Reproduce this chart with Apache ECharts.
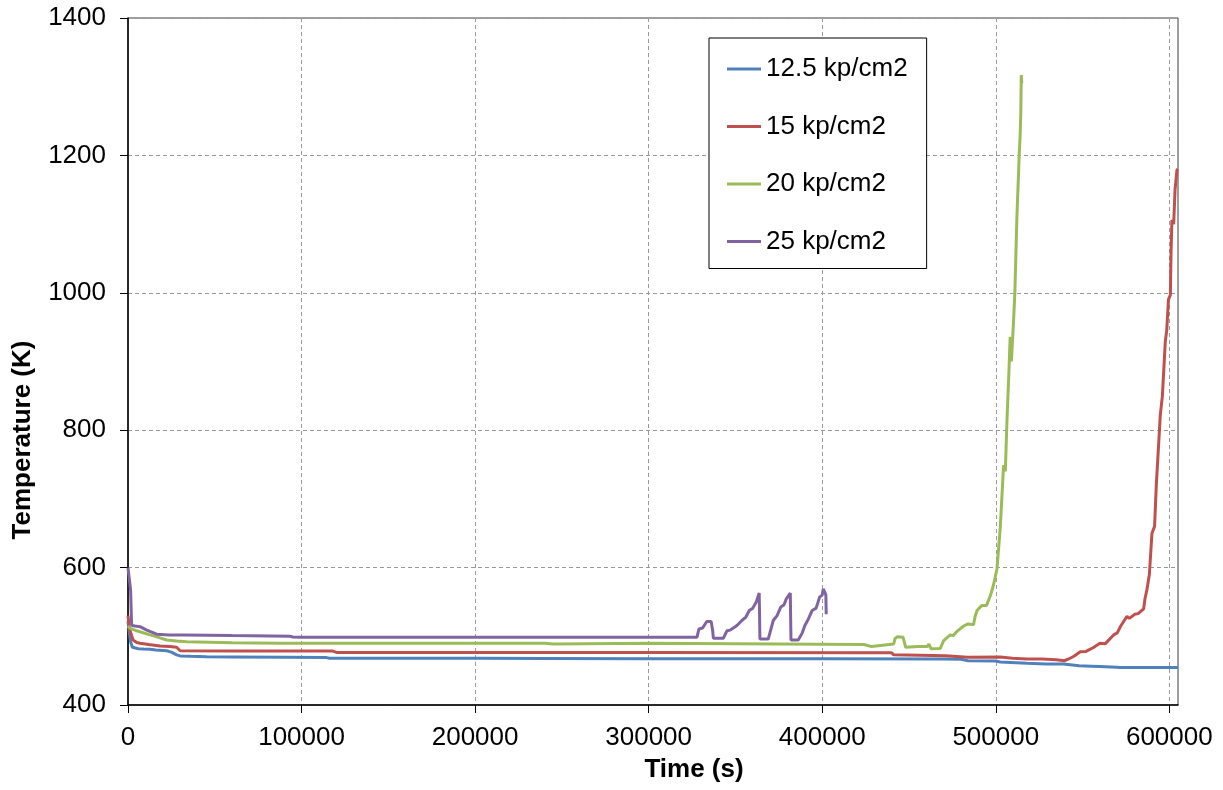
<!DOCTYPE html>
<html>
<head>
<meta charset="utf-8">
<script src="https://cdn.jsdelivr.net/npm/echarts@6/dist/echarts.min.js"></script>
<style>
html,body{margin:0;padding:0;background:#fff;}
#chart{width:1223px;height:790px;}
</style>
</head>
<body>
<div id="chart"></div>
<script>
// ---- Data (time in s, temperature in K) ----
const seriesNames = ['12.5 kp/cm2', '15 kp/cm2', '20 kp/cm2', '25 kp/cm2'];
const xTicks = [0, 100000, 200000, 300000, 400000, 500000, 600000];
const yTicks = [400, 600, 800, 1000, 1200, 1400];

const blueT = [0, 800, 1500, 2500, 3500, 6000, 9000, 12700, 16000, 20000, 22300, 25000, 28000, 30000, 36000, 45200, 60000, 90000, 114400, 116000, 200000, 240000, 300000, 343000, 344000, 345000, 400000, 470000, 480000, 484000, 500000, 502600, 518000, 528900, 539000, 548100, 555000, 560000, 569800, 571600, 590000, 605000];
const blueV = [522, 505, 492, 484, 482.5, 482, 481.5, 481, 480, 479.5, 479, 477, 473, 471.5, 471, 470.3, 470, 469.5, 469, 468, 468, 467.8, 467.5, 467.3, 465, 467.3, 467.2, 467, 466.5, 464.5, 464, 462.6, 460.7, 459.5, 459.7, 457, 456.5, 456, 455, 454.6, 454.6, 454.6];

const redT = [0, 800, 1700, 2900, 5000, 6900, 12000, 18400, 24000, 28000, 30000, 60000, 118000, 120200, 200000, 300000, 440000, 441200, 470900, 483900, 502600, 509600, 518000, 526700, 535000, 539500, 542000, 545000, 548700, 552000, 556300, 560000, 563000, 567900, 570000, 572000, 575600, 577000, 580000, 582000, 585200, 586000, 587100, 588500, 590000, 591500, 592500, 594800, 596000, 597700, 598500, 599500, 600600, 601000, 601500, 602500, 603300, 604400, 605000];
const redV = [530, 512, 504, 494.6, 491, 490, 488, 486, 485, 484, 479, 478.5, 478.5, 476.5, 476.5, 476.5, 476, 473, 471.7, 469.5, 470, 468, 467, 466.8, 466, 464.4, 467, 471, 477.6, 478, 483.7, 490, 489, 502, 505, 515, 529, 526, 532, 533, 540, 555, 568, 590, 650, 660, 720, 822, 850, 930, 945, 990, 997, 1060, 1106, 1100, 1150, 1179, 1180];

const greenT = [0, 1000, 2000, 5000, 12700, 18000, 22300, 28000, 33800, 60000, 87600, 90000, 240000, 245000, 300000, 424100, 428400, 441200, 442000, 443400, 446600, 447500, 448100, 455000, 460500, 461500, 462600, 468000, 470000, 473800, 475400, 478000, 481500, 484000, 487200, 488200, 489300, 492000, 494700, 494900, 497000, 498700, 500700, 502600, 504500, 505500, 506400, 507500, 508300, 509000, 510300, 511000, 512200, 513500, 514100, 514400, 514700, 515000];
const greenV = [515, 512, 510, 508, 502, 498, 494.6, 493, 492, 490.5, 490, 489.8, 489.8, 488.8, 489.8, 488, 485, 488.8, 497, 499.5, 498.5, 500, 484, 485, 485, 488.8, 482, 482.4, 493.7, 502, 501, 508, 515, 518, 517, 530, 538, 545, 545, 547, 560, 575, 598, 659, 749, 740, 810, 880, 936, 900, 961, 1000, 1112, 1200, 1233, 1260, 1317, 1305];

const purpleT = [0, 750, 1500, 2100, 4000, 6900, 10800, 16500, 24000, 31900, 60000, 93400, 95000, 99100, 200000, 327800, 329000, 331000, 333500, 336000, 336800, 337300, 343000, 345100, 347000, 349400, 351000, 353700, 356000, 358000, 360000, 362000, 363700, 364100, 368900, 371800, 374000, 376100, 378000, 379300, 381600, 382000, 386200, 388500, 390000, 392000, 394200, 396500, 398500, 400000, 400600, 401500, 402100, 402300];
const purpleV = [600, 598, 567, 516, 515, 514, 509, 503, 502, 502, 501, 500, 499, 498.5, 498.5, 498.5, 510.7, 512, 521.5, 521.5, 510, 497, 497, 508, 509, 513, 516, 523, 528, 537.6, 541, 550, 563, 496, 496, 523, 530, 542.4, 546, 554.6, 563, 494.6, 494.6, 505, 515.6, 525, 537.6, 541, 557, 560, 569, 564, 560, 532];

const colors = ['#4F81BD', '#C0504D', '#9BBB59', '#8064A2'];

function pairs(t, v) { return t.map((x, i) => [x, v[i]]); }
const allData = [pairs(blueT, blueV), pairs(redT, redV), pairs(greenT, greenV), pairs(purpleT, purpleV)];

const FONT = "'Liberation Sans', Arial, sans-serif";
const chart = echarts.init(document.getElementById('chart'), null, {renderer: 'canvas'});
chart.setOption({
  animation: false,
  backgroundColor: '#ffffff',
  color: colors,
  grid: {left: 128, right: 45, top: 18, bottom: 85, show: true, borderColor: '#404040', borderWidth: 1, backgroundColor: 'transparent'},
  legend: {
    orient: 'vertical',
    left: 709, top: 38,
    padding: [18, 19, 14, 18],
    itemGap: 31.5,
    itemWidth: 34,
    itemHeight: 3,
    itemTextGap: 5,
    icon: 'rect',
    backgroundColor: '#ffffff',
    borderColor: '#000000',
    borderWidth: 1,
    borderRadius: 0,
    textStyle: {fontSize: 26, fontFamily: FONT, color: '#000', lineHeight: 26},
    data: seriesNames
  },
  xAxis: {
    type: 'value', min: 0, max: 605000, interval: 100000,
    name: 'Time (s)', nameLocation: 'middle', nameGap: 52,
    nameTextStyle: {fontSize: 26, fontWeight: 'bold', fontFamily: FONT, color: '#000', padding: [0, 0, 0, 82]},
    axisLine: {show: true, onZero: false, lineStyle: {color: '#000', width: 1.5}},
    axisTick: {show: true, inside: false, length: 8, lineStyle: {color: '#000'}},
    axisLabel: {fontSize: 26, fontFamily: FONT, color: '#000', margin: 20, showMaxLabel: false,
      formatter: v => xTicks.indexOf(v) >= 0 ? String(v) : ''},
    splitLine: {show: true, lineStyle: {color: '#9a9a9a', type: [4, 3], width: 1}}
  },
  yAxis: {
    type: 'value', min: 400, max: 1400, interval: 200,
    name: 'Temperature (K)', nameLocation: 'middle', nameGap: 92, nameRotate: 90,
    nameTextStyle: {fontSize: 26, fontWeight: 'bold', fontFamily: FONT, color: '#000', padding: [0, 157, 0, 0]},
    axisLine: {show: true, onZero: false, lineStyle: {color: '#000', width: 1.5}},
    axisTick: {show: true, inside: false, length: 8, lineStyle: {color: '#000'}},
    axisLabel: {fontSize: 26, fontFamily: FONT, color: '#000', margin: 22,
      formatter: v => yTicks.indexOf(v) >= 0 ? String(v) : ''},
    splitLine: {show: true, lineStyle: {color: '#9a9a9a', type: [4, 3], width: 1}}
  },
  series: allData.map((d, i) => ({
    name: seriesNames[i],
    type: 'line',
    data: d,
    showSymbol: false,
    symbol: 'none',
    smooth: false,
    lineStyle: {width: 3, color: colors[i]},
    itemStyle: {color: colors[i]},
    z: 2 + i
  }))
});
</script>
</body>
</html>
